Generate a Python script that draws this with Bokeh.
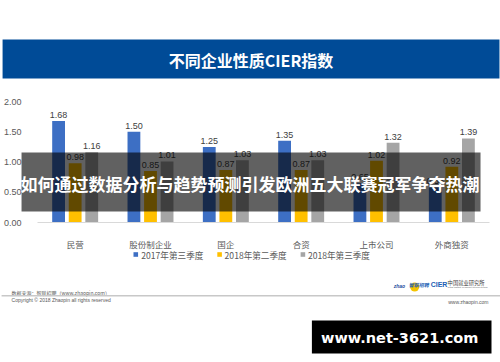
from bokeh.plotting import figure
from bokeh.models import (ColumnDataSource, Range1d, FixedTicker,
                          NumeralTickFormatter, LinearScale)
from bokeh.core.properties import value
from bokeh.embed import file_html
from bokeh.resources import INLINE

# ---- data ----
categories = ["民营", "股份制企业", "国企", "合资", "上市公司", "外商独资"]
q3_2017 = [1.68, 1.50, 1.25, 1.35, 0.65, 0.58]
q2_2018 = [0.98, 0.85, 0.87, 0.87, 1.02, 0.92]
q3_2018 = [1.16, 1.01, 1.03, 1.03, 1.32, 1.39]
series_names = ["2017年第三季度", "2018年第二季度", "2018年第三季度"]
y_ticks = [0, 0.5, 1.0, 1.5, 2.0]
title_text = "不同企业性质CIER指数"
overlay_text = "如何通过数据分析与趋势预测引发欧洲五大联赛冠军争夺热潮"
source_note = "数据来源：智联招聘（www.zhaopin.com）"
copyright_note = "Copyright © 2018 Zhaopin all rights reserved"
site_note = "www.zhaopin.com"
watermark = "www.net-3621.com"

colors = ["#3D6FC4", "#FFC000", "#A5A5A5"]
CJK = value("Noto Sans CJK SC")
LAT = value("Liberation Sans")

pos = list(range(1, len(categories) + 1))
series = [q3_2017, q2_2018, q3_2018]
offsets = [-0.22, 0.0, 0.22]

W, H = 500, 362
p = figure(width=W, height=H, output_backend="svg", toolbar_location=None,
           title=None,
           x_range=Range1d(0.5, len(categories) + 0.5),
           y_range=Range1d(0, 2.1),
           min_border_left=36, min_border_right=11,
           min_border_top=95, min_border_bottom=140)
p.background_fill_color = "white"
p.border_fill_color = "white"
p.outline_line_color = None
p.grid.visible = False

# reference-pixel coordinate system for the surrounding decorations
p.extra_x_ranges = {"px": Range1d(36, 489)}
p.extra_x_scales = {"px": LinearScale()}
p.extra_y_ranges = {"py": Range1d(222, 95)}
p.extra_y_scales = {"py": LinearScale()}

for vals, off, colr in zip(series, offsets, colors):
    src = ColumnDataSource(dict(x=[c + off for c in pos], top=vals,
                                lab=["%.2f" % v for v in vals]))
    p.vbar(x="x", top="top", width=0.17, source=src, fill_color=colr, line_color=None)
    p.text(x="x", y="top", text="lab", source=src, text_align="center", text_baseline="bottom",
           y_offset=-3, text_font_size="9px", text_color="#404040", text_font=LAT)

# axes
p.xaxis.ticker = FixedTicker(ticks=pos)
p.xaxis.major_label_overrides = {c: name for c, name in zip(pos, categories)}
p.xaxis.axis_line_color = "#D9D9D9"
p.xaxis.major_tick_line_color = None
p.xaxis.minor_tick_line_color = None
p.xaxis.major_label_text_font_size = "8.5px"
p.xaxis.major_label_text_color = "#595959"
p.xaxis.major_label_text_font = "Noto Sans CJK SC"
p.xaxis.major_label_standoff = 9

p.yaxis.axis_line_color = None
p.yaxis.major_tick_line_color = None
p.yaxis.minor_tick_line_color = None
p.yaxis.ticker = FixedTicker(ticks=y_ticks)
p.yaxis.formatter = NumeralTickFormatter(format="0.00")
p.yaxis.major_label_text_font_size = "9px"
p.yaxis.major_label_text_color = "#595959"
p.yaxis.major_label_text_font = "Liberation Sans"
p.yaxis.major_label_standoff = 10

R = dict(x_range_name="px", y_range_name="py", level="overlay")

# title banner
p.quad(left=[1], right=[499], top=[39], bottom=[78], fill_color="#004B97", line_color=None, **R)
p.text(x=[250], y=[59], text=[title_text], text_align="center", text_baseline="middle",
       text_font=CJK, text_font_style="bold", text_font_size="16px", text_color="white", **R)

# legend (swatches + labels)
leg_sq_x = [134.5, 218.5, 302]
leg_tx_x = [140, 223.5, 307]
p.quad(left=[x - 2.3 for x in leg_sq_x], right=[x + 2.3 for x in leg_sq_x],
       top=[251.7] * 3, bottom=[256.3] * 3, fill_color=colors, line_color=None, **R)
p.text(x=leg_tx_x, y=[254] * 3, text=series_names, text_align="left", text_baseline="middle",
       text_font=CJK, text_font_size="8.6px", text_color="#595959", **R)

# footer
p.text(x=[10], y=[291.5], text=[source_note], text_baseline="middle", text_font=CJK,
       text_font_size="5px", text_color="#595959", **R)
p.segment(x0=[0], x1=[500], y0=[295.3], y1=[295.3], line_color="#C8C8C8", line_width=1.5, **R)
p.text(x=[10], y=[299.5], text=[copyright_note], text_baseline="middle", text_font=LAT,
       text_font_size="5px", text_color="#595959", **R)
p.text(x=[488], y=[301.5], text=[site_note], text_align="right", text_baseline="middle",
       text_font=LAT, text_font_size="5px", text_color="#595959", **R)

# logo
p.ellipse(x=[414], y=[286.5], width=[9], height=[9], fill_color="#F5C400", line_color=None, **R)
p.text(x=[393], y=[285.5], text=["zhao"], text_baseline="middle", text_font=LAT,
       text_font_style="bold italic", text_font_size="5px", text_color="#1D4E9E", **R)
p.text(x=[408], y=[283.5], text=["智联招聘"], text_baseline="middle", text_font=CJK,
       text_font_style="bold italic", text_font_size="5px", text_color="#1D5FB5", **R)
p.text(x=[430], y=[284], text=["CIER"], text_baseline="middle", text_font=LAT,
       text_font_style="bold", text_font_size="7px", text_color="#1D5FB5", **R)
p.text(x=[447], y=[282.5], text=["中国就业研究所"], text_baseline="middle", text_font=CJK,
       text_font_size="5.3px", text_color="#404040", **R)
p.text(x=[447], y=[287], text=["China Institute for Employment Research"], text_baseline="middle",
       text_font=LAT, text_font_size="2.2px", text_color="#606060", **R)

# dark overlay with headline
p.quad(left=[20], right=[480], top=[152], bottom=[211], fill_color="black", fill_alpha=0.62,
       line_color=None, **R)
p.text(x=[249], y=[183], text=[overlay_text], text_align="center", text_baseline="middle",
       text_font=CJK, text_font_style="bold", text_font_size="17px", text_color="white", **R)

# watermark box
p.quad(left=[311], right=[491], top=[320], bottom=[353], fill_color="black", line_color=None, **R)
p.text(x=[399], y=[337], text=[watermark], text_align="center", text_baseline="middle",
       text_font=value("DejaVu Sans"), text_font_style="bold", text_font_size="14.5px",
       text_color="white", **R)

open("out.html", "w").write(file_html(p, INLINE))
